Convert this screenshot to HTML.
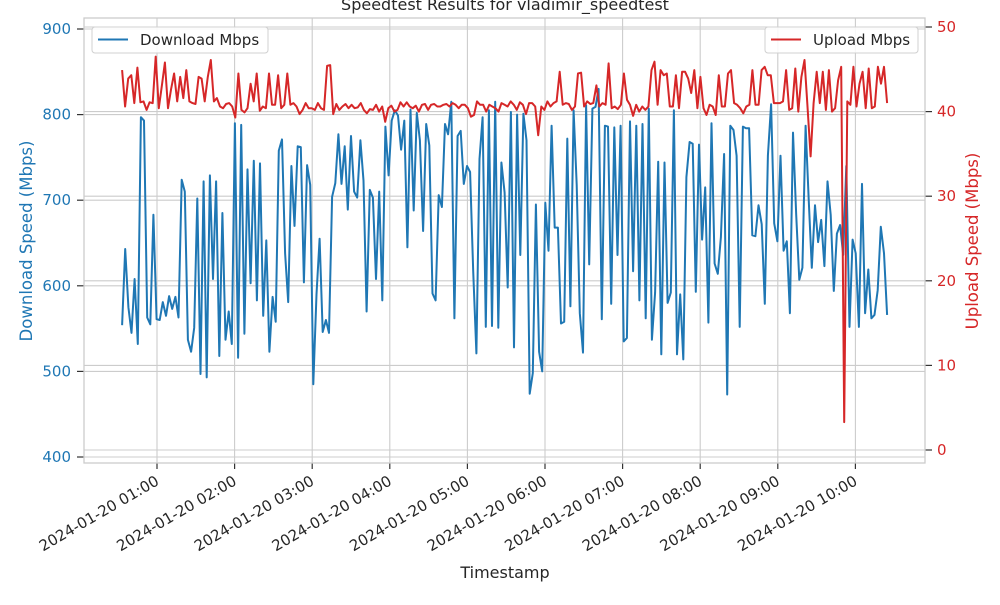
<!DOCTYPE html>
<html><head><meta charset="utf-8"><style>
body{margin:0;background:#fff;}
svg text{font-family:"DejaVu Sans","Liberation Sans",sans-serif;}
</style></head><body>
<svg id="chart" width="1000" height="600" xmlns="http://www.w3.org/2000/svg">
<g id="grid"></g><g id="series"></g><g id="axes"></g>
</svg>
<script>
const startMin = 33, endMin = 624.5;
const hourTicks = ["2024-01-20 01:00","2024-01-20 02:00","2024-01-20 03:00","2024-01-20 04:00","2024-01-20 05:00","2024-01-20 06:00","2024-01-20 07:00","2024-01-20 08:00","2024-01-20 09:00","2024-01-20 10:00"];
const leftTicks = [400,500,600,700,800,900];
const rightTicks = [0,10,20,30,40,50];
const download = [554,643,575,545,608,532,797,793,563,555,683,561,560,581,565,588,573,587,563,724,710,537,523,551,702,497,722,493,729,608,722,518,685,537,570,532,790,516,788,544,736,603,746,583,743,565,653,523,587,558,758,771,638,581,740,670,763,762,604,741,718,485,
590,655,546,560,545,704,720,777,719,763,689,775,710,703,770,723,570,712,703,608,710,583,786,729,793,805,799,759,793,645,806,688,802,770,664,789,764,591,583,706,692,789,777,815,562,775,781,719,740,733,617,521,748,797,552,805,553,
815,551,744,709,598,803,528,800,636,801,770,474,498,695,523,500,697,641,787,668,668,556,558,772,576,805,718,568,522,811,625,807,809,830,561,787,786,579,785,636,787,535,539,792,617,787,583,789,562,807,537,592,745,520,744,580,592,805,520,590,514,727,
768,766,593,765,654,715,557,790,626,614,657,754,473,787,782,752,552,786,784,784,659,658,694,672,579,752,812,673,652,752,641,652,568,779,683,607,621,787,701,621,694,651,677,623,722,683,594,661,671,636,740,552,654,638,552,719,568,619,562,566,595,669,638,566];
const upload = [44.9,40.6,43.9,44.3,41,45.2,41.1,41.2,40.2,41.1,41,46.5,40.4,43.1,45.8,40.4,42.6,44.5,41.2,44.1,41.6,44.9,41.2,41,40.9,44.1,43.9,41.2,44.1,46.1,41.2,41.6,40.6,40.4,40.9,41,40.6,39.3,44.5,40.2,39.9,40.4,43.3,41.2,44.5,40.1,40.6,40.4,44.5,40.8,40.8,44.3,40.4,40.8,44.5,40.8,41,40.6,39.7,40.2,41,40.4,
40.4,40.2,41,40.4,40.2,45.4,45.5,39.7,40.9,40.2,40.6,40.9,40.4,40.8,40.4,40.5,41,40.2,39.8,40.3,40.2,40.8,40,40.6,38.8,40.4,40.7,40,40.2,41.1,40.6,41.1,40.6,40.4,40.7,40,40.8,40.9,40.2,40.8,40.9,40.6,40.6,40.8,40.9,40.6,41,40.8,40.4,40.8,40.8,40.4,39.4,39.6,41.2,40.8,40.8,40,40.8,
40.6,40.4,40,41,40.8,40.6,41.2,40.8,40.2,41.1,40.8,39.7,41,41,40.6,37.2,40.6,40.2,41.2,40.6,41,41.2,44.7,40.8,41,40.9,40.2,40.6,44.5,44.6,40.6,41.2,40.9,41,43.1,40.6,41,40.8,45.7,40.4,40.6,40.3,40.8,44.5,41.4,40.8,39.5,40.8,40,40.6,40.2,40.6,44.9,45.9,40.8,44.9,44.3,44.5,40.6,40.6,44.3,40.4,44.7,44.7,43.9,42.2,
44.9,40.4,44.1,40.4,39.6,40.8,40.6,39.6,44.3,40.6,40.6,44.5,44.9,41,40.8,40.4,39.8,40.6,40.8,44.9,40.8,40.8,44.9,45.3,44.3,44.3,41,41,41,41.2,44.9,40.2,40.4,45.1,40,44.1,46.1,40.6,34.7,41,44.7,41,44.7,40.2,44.9,40,40.4,43.7,45.3,3.3,41.2,40.8,45.3,40.6,43.3,44.7,40.4,45.1,40.4,40.6,45.3,43.3,45.3,41];

const X0=84,X1=925,Y0=18,Y1=463;
const xs = m => 157 + (m-60)*77.6/60;
const yl = v => 29 + (900-v)*(428/500);
const yr = v => 27 + (50-v)*(423/50);
const NS="http://www.w3.org/2000/svg";
function mk(tag,attrs,parent,text){const e=document.createElementNS(NS,tag);for(const k in attrs)e.setAttribute(k,attrs[k]);if(text!==undefined)e.textContent=text;parent.appendChild(e);return e;}
const grid=document.getElementById('grid'),series=document.getElementById('series'),axes=document.getElementById('axes');

hourTicks.forEach((t,i)=>{const x=xs(60*(i+1));
 const g=mk('line',{x1:x,x2:x,y1:Y0,y2:Y1,stroke:'#cccccc','stroke-width':1.1},grid);
 
 
 const tk=mk('line',{x1:x,x2:x,y1:Y1,y2:Y1+6,stroke:'#333','stroke-width':1.2},axes);
 
 
 const lb=mk('text',{x:x+3,y:Y1+21,'font-size':15,fill:'#262626','text-anchor':'end',transform:`rotate(-30 ${x+3} ${Y1+21})`},axes,t);
 
 
});
leftTicks.forEach(v=>{const y=yl(v);
 const g=mk('line',{x1:X0,x2:X1,y1:y,y2:y,stroke:'#cccccc','stroke-width':1.1},grid);
 
 
 const tk=mk('line',{x1:X0-7,x2:X0,y1:y,y2:y,stroke:'#333','stroke-width':1.2},axes);
 
 
 const lb=mk('text',{x:X0-13,y:y+5,'font-size':15,fill:'#1f77b4','text-anchor':'end'},axes,v);
 
 
});
rightTicks.forEach(v=>{const y=yr(v);
 const g=mk('line',{x1:X0,x2:X1,y1:y,y2:y,stroke:'#cccccc','stroke-width':1.1},grid);
 
 
 const tk=mk('line',{x1:X1,x2:X1+7,y1:y,y2:y,stroke:'#333','stroke-width':1.2},axes);
 
 
 const lb=mk('text',{x:X1+12,y:y+5,'font-size':15,fill:'#d62728','text-anchor':'start'},axes,v);
 
 
});
function line(vals,yf,color,name){
 const n=vals.length;const pts=vals.map((v,i)=>{const m=startMin+(endMin-startMin)*i/(n-1);return xs(m).toFixed(1)+','+yf(v).toFixed(1);}).join(' ');
 const p=mk('polyline',{points:pts,fill:'none',stroke:color,'stroke-width':2,'stroke-linejoin':'round'},series);
 
 
}
line(download,yl,'#1f77b4','download-line');
line(upload,yr,'#d62728','upload-line');
const fr=mk('rect',{x:X0,y:Y0,width:X1-X0,height:Y1-Y0,fill:'none',stroke:'#cccccc','stroke-width':1.3},axes);



const s=document.getElementById('chart');
s.insertAdjacentHTML('beforeend',`
<text x="505" y="10" font-size="16" fill="#262626" text-anchor="middle">Speedtest Results for vladimir_speedtest</text>
<text x="505" y="578" font-size="16" fill="#262626" text-anchor="middle">Timestamp</text>
<text x="0" y="0" font-size="16.5" fill="#1f77b4" text-anchor="middle" transform="translate(32 241) rotate(-90)">Download Speed (Mbps)</text>
<text x="0" y="0" font-size="16.5" fill="#d62728" text-anchor="middle" transform="translate(978 241) rotate(-90)">Upload Speed (Mbps)</text>
<g>
<rect x="92" y="27" width="176" height="26" rx="3" fill="#fff" fill-opacity="0.85" stroke="#d0d0d0"/>
<line x1="98" x2="128" y1="39.5" y2="39.5" stroke="#1f77b4" stroke-width="2"/>
<text x="140" y="45" font-size="15" fill="#262626">Download Mbps</text></g>
<g>
<rect x="765" y="27" width="153" height="26" rx="3" fill="#fff" fill-opacity="0.85" stroke="#d0d0d0"/>
<line x1="771" x2="801" y1="39.5" y2="39.5" stroke="#d62728" stroke-width="2"/>
<text x="813" y="45" font-size="15" fill="#262626">Upload Mbps</text></g>`);
</script>
</body></html>
